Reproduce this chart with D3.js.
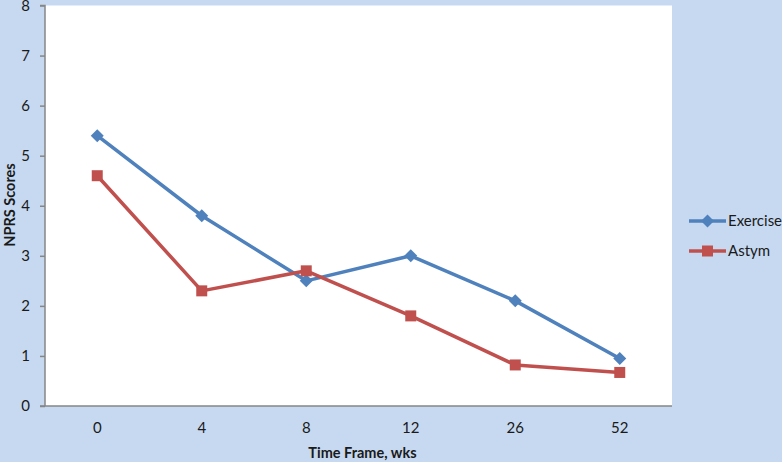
<!DOCTYPE html>
<head>
<meta charset="utf-8">
<script src="https://d3js.org/d3.v7.min.js"></script>
<style>
body { margin:0; background:#c6d9f0; }
text { font-family: Lato, "Open Sans", sans-serif; fill:#1a1a1a; }
</style>
</head>
<body>
<script>

var weeks = ["0", "4", "8", "12", "26", "52"];
var exercise = [5.4, 3.8, 2.5, 3.0, 2.1, 0.95];
var astym = [4.6, 2.3, 2.7, 1.8, 0.82, 0.67];
var yTicks = [0, 1, 2, 3, 4, 5, 6, 7, 8];

var width = 782,
  height = 462,
  margin = {top: 5.5, right: 110, bottom: 56, left: 45};

var svg = d3.select("body").append("svg")
    .attr("width", width)
    .attr("height", height);

svg.append("rect")
    .attr("width", width).attr("height", height)
    .style("fill", "#c6d9f0");

var x = d3.scaleBand()
    .domain(weeks)
    .range([margin.left, width - margin.right]);

var y = d3.scaleLinear()
    .domain([0, 8])
    .range([height - margin.bottom, margin.top]);

svg.append("rect")
    .attr("x", margin.left).attr("y", margin.top)
    .attr("width", x.range()[1] - margin.left)
    .attr("height", y(0) - margin.top)
    .style("fill", "white");

// y axis
var yAxis = svg.append("g")
    .attr("transform", "translate(" + margin.left + ",0)")
    .call(d3.axisLeft(y).tickValues(yTicks).tickSize(5).tickPadding(10));
yAxis.selectAll("line, path").style("stroke", "#868686").style("stroke-width", 1.5);
yAxis.selectAll("text").style("font-size", "15px").style("fill", "#1a1a1a");
yAxis.select(".domain").attr("d", "M" + (-5) + "," + y(8) + "H0V" + y(0));

// x axis
var xAxis = svg.append("g")
    .attr("transform", "translate(0," + y(0) + ")")
    .call(d3.axisBottom(x).tickSize(0).tickPadding(16));
xAxis.select(".domain").style("stroke", "#868686").style("stroke-width", 1.5)
    .attr("d", "M" + (margin.left - 5) + ",0H" + x.range()[1]);
xAxis.selectAll("text").style("font-size", "15px").style("fill", "#1a1a1a");

svg.append("text")
    .attr("x", (margin.left + x.range()[1]) / 2 + 4)
    .attr("y", 458)
    .attr("text-anchor", "middle")
    .style("font-weight", "bold")
    .style("font-size", "14.5px")
    .text("Time Frame, wks");

svg.append("text")
    .attr("transform", "translate(15," + 205 + ") rotate(-90)")
    .attr("text-anchor", "middle")
    .style("font-weight", "bold")
    .style("font-size", "14.5px")
    .text("NPRS Scores");

var cx = function(d, i) { return x(weeks[i]) + x.bandwidth() / 2; };
var line = d3.line()
    .x(function(d, i) { return cx(d, i); })
    .y(function(d) { return y(d); });

var diamond = "M0,-6.5L6.5,0L0,6.5L-6.5,0Z";
var square = "M-5.5,-5.5H5.5V5.5H-5.5Z";

var series = [
  {name: "Exercise", values: exercise, color: "#4f81bd", shape: diamond},
  {name: "Astym", values: astym, color: "#c0504d", shape: square}
];

series.forEach(function(s) {
  svg.append("path")
      .attr("d", line(s.values))
      .style("fill", "none")
      .style("stroke", s.color)
      .style("stroke-width", 3.5)
      .style("stroke-linejoin", "round");
  svg.selectAll(null)
      .data(s.values)
      .enter().append("path")
      .attr("transform", function(d, i) { return "translate(" + cx(d, i) + "," + y(d) + ")"; })
      .attr("d", s.shape)
      .style("fill", s.color);
});

// legend
var legend = svg.append("g")
    .selectAll("g")
    .data(series)
    .enter().append("g")
    .attr("transform", function(d, i) { return "translate(689," + (221 + i * 30) + ")"; });

legend.append("line")
    .attr("x1", 0).attr("x2", 37)
    .style("stroke", function(d) { return d.color; })
    .style("stroke-width", 3.5);
legend.append("path")
    .attr("transform", "translate(18.5,0)")
    .attr("d", function(d) { return d.shape; })
    .style("fill", function(d) { return d.color; });
legend.append("text")
    .attr("x", 39)
    .attr("dy", "0.35em")
    .style("font-size", "15px")
    .text(function(d) { return d.name; });

</script>
</body>
